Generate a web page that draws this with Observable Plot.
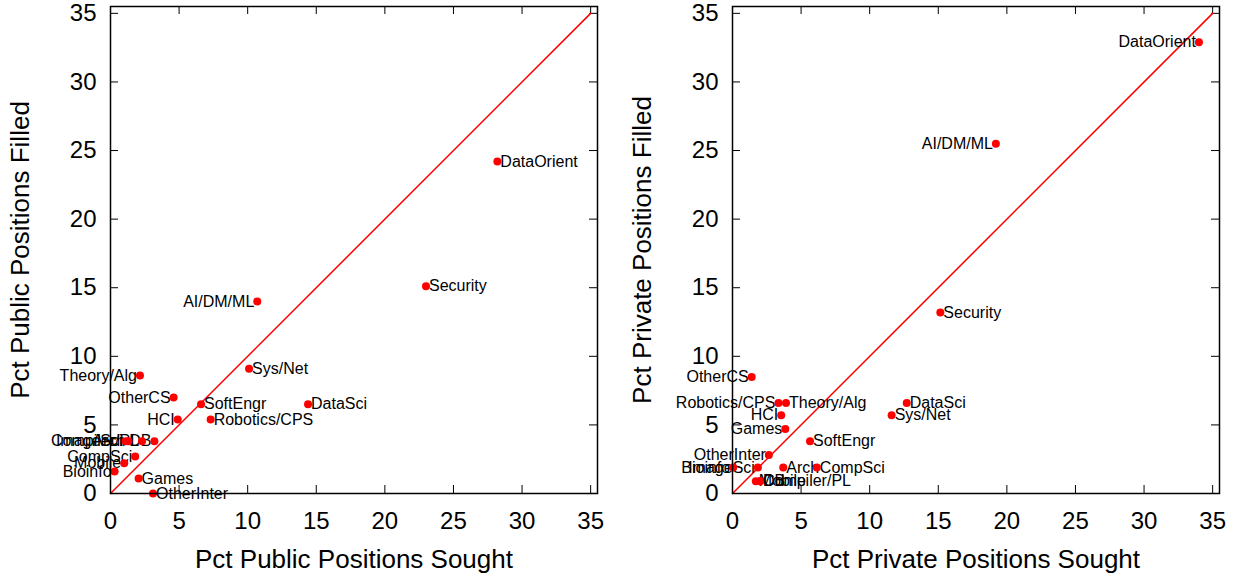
<!DOCTYPE html>
<html><head><meta charset="utf-8">
<script src="https://cdn.jsdelivr.net/npm/d3@7"></script>
<script src="https://cdn.jsdelivr.net/npm/@observablehq/plot@0.6"></script>
<style>
body{margin:0;background:#fff;}
#wrap{display:flex;width:1241px;height:577px;}
svg{display:block}
</style></head><body><div id="wrap"></div>
<script>
const categories = ["DataOrient","Security","AI/DM/ML","Sys/Net","Theory/Alg","OtherCS","SoftEngr","DataSci","HCI","Robotics/CPS","ImageSci","Arch","Compiler/PL","DB","CompSci","Mobile","Bioinfo","Games","OtherInter"];
const publicSought  = [28.2, 23.0, 10.7, 10.1, 2.15, 4.6, 6.6, 14.4, 4.9, 7.3, 1.1, 1.3, 2.3, 3.2, 1.8, 1.0, 0.3, 2.05, 3.1];
const publicFilled  = [24.2, 15.1, 14.0, 9.1, 8.6, 7.0, 6.5, 6.5, 5.4, 5.4, 3.8, 3.8, 3.8, 3.8, 2.7, 2.2, 1.6, 1.1, 0.0];
const privateSought = [34.0, 15.15, 19.2, 11.6, 3.9, 1.4, 5.65, 12.7, 3.55, 3.35, 1.85, 3.7, 2.0, 2.0, 6.15, 1.7, 0.05, 3.85, 2.65];
const privateFilled = [32.9, 13.2, 25.5, 5.7, 6.6, 8.5, 3.8, 6.6, 5.7, 6.6, 1.9, 1.9, 0.9, 0.9, 1.9, 0.9, 1.9, 4.7, 2.8];
const publicLabelsLeft  = ["AI/DM/ML","Theory/Alg","OtherCS","HCI","ImageSci","Arch","Compiler/PL","DB","CompSci","Mobile","Bioinfo"];
const privateLabelsLeft = ["DataOrient","AI/DM/ML","OtherCS","Robotics/CPS","HCI","Games","OtherInter","Bioinfo","ImageSci"];
const tickValues = [0, 5, 10, 15, 20, 25, 30, 35];
const diagonal = [0, 35];

function panel({sought, filled, leftLabels, xTitle, yTitle, width, marginLeft, marginRight}) {
  const leftSet = new Set(leftLabels);
  const rows = categories.map((c, i) => ({name: c, x: sought[i], y: filled[i], left: leftSet.has(c)}));
  const H = 577, mt = 6, mb = 84;
  const ph = H - mt - mb, pw = width - marginLeft - marginRight;
  const font = "'Liberation Sans', Arial, Helvetica, sans-serif";
  return Plot.plot({
    width, height: H, marginLeft, marginRight, marginTop: mt, marginBottom: mb,
    style: {fontFamily: font, background: "white", color: "black", overflow: "visible"},
    x: {domain: [0, 35.5]},
    y: {domain: [0, 35.5]},
    marks: [
      Plot.axisX(tickValues, {tickSize: 0, tickPadding: 18, fontSize: 24, label: null}),
      Plot.axisY(tickValues, {tickSize: 0, tickPadding: 14, fontSize: 24, label: null}),
      Plot.tickX(tickValues, {x: d => d, insetTop: ph - 8, stroke: "black"}),
      Plot.tickX(tickValues, {x: d => d, insetBottom: ph - 8, stroke: "black"}),
      Plot.tickY(tickValues, {y: d => d, insetRight: pw - 8, stroke: "black"}),
      Plot.tickY(tickValues, {y: d => d, insetLeft: pw - 8, stroke: "black"}),
      Plot.line(diagonal, {x: d => d, y: d => d, stroke: "red", strokeWidth: 1.5}),
      Plot.text(rows.filter(d => !d.left), {x: "x", y: "y", text: "name", textAnchor: "start", dx: 3, fontSize: 16, fill: "black"}),
      Plot.text(rows.filter(d => d.left), {x: "x", y: "y", text: "name", textAnchor: "end", dx: -3, fontSize: 16, fill: "black"}),
      Plot.dot(rows, {x: "x", y: "y", r: 4, fill: "red", stroke: "none"}),
      Plot.frame({stroke: "black", strokeWidth: 1.5}),
      Plot.text([xTitle], {text: d => d, frameAnchor: "bottom", dy: 74, fontSize: 26, lineAnchor: "bottom", textAnchor: "middle", fill: "black"}),
      Plot.text([yTitle], {text: d => d, frameAnchor: "left", dx: -90, rotate: -90, fontSize: 26, textAnchor: "middle", lineAnchor: "middle", fill: "black"})
    ]
  });
}

const wrap = document.getElementById("wrap");
wrap.appendChild(panel({sought: publicSought, filled: publicFilled, leftLabels: publicLabelsLeft,
  xTitle: "Pct Public Positions Sought", yTitle: "Pct Public Positions Filled", width: 620, marginLeft: 110, marginRight: 23}));
wrap.appendChild(panel({sought: privateSought, filled: privateFilled, leftLabels: privateLabelsLeft,
  xTitle: "Pct Private Positions Sought", yTitle: "Pct Private Positions Filled", width: 621, marginLeft: 112, marginRight: 22}));
</script></body></html>
